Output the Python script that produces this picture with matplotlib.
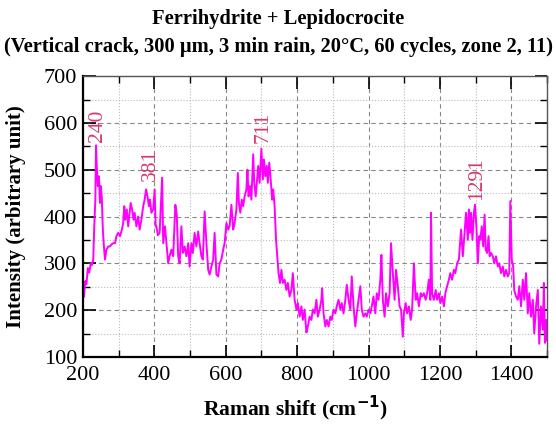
import matplotlib.pyplot as plt
from matplotlib.ticker import MultipleLocator

# Raman spectrum
shift = [
    200, 203, 207, 210, 214, 218, 222, 225, 229, 232, 235, 237, 239, 242, 245,
    248, 250, 253, 256, 259, 262, 266, 271, 276, 280, 285, 290, 294, 299, 304,
    308, 313, 316, 319, 323, 327, 331, 334, 338, 342, 345, 350, 355, 359, 364,
    369, 373, 377, 381, 385, 388, 392, 397, 401, 404, 406, 410, 415, 422, 425,
    430, 434, 439, 443, 448, 453, 459, 463, 467, 471, 476, 480, 485, 490, 495,
    499, 504, 508, 513, 518, 523, 527, 532, 536, 541, 546, 551, 555, 560, 565,
    569, 574, 579, 583, 588, 593, 597, 602, 607, 611, 616, 621, 625, 630, 634,
    637, 641, 645, 649, 653, 658, 661, 664, 668, 672, 677, 680, 684, 688, 691,
    695, 700, 704, 707, 711, 715, 718, 722, 726, 730, 733, 737, 741, 745, 748,
    752, 756, 760, 765, 770, 774, 779, 784, 788, 793, 798, 802, 807, 812, 816,
    821, 826, 830, 835, 840, 844, 849, 854, 858, 863, 868, 870, 874, 879, 883,
    888, 893, 897, 902, 907, 911, 916, 921, 925, 930, 935, 939, 944, 949, 953,
    958, 963, 967, 972, 977, 981, 986, 991, 995, 1000, 1005, 1009, 1014, 1019,
    1023, 1028, 1033, 1036, 1040, 1045, 1049, 1054, 1059, 1063, 1068, 1073,
    1077, 1082, 1087, 1091, 1096, 1099, 1104, 1108, 1113, 1118, 1122, 1127,
    1132, 1136, 1141, 1146, 1150, 1155, 1160, 1164, 1169, 1173, 1175, 1178,
    1183, 1188, 1192, 1197, 1201, 1206, 1211, 1215, 1220, 1225, 1229, 1234,
    1239, 1243, 1248, 1253, 1259, 1264, 1269, 1273, 1278, 1281, 1284, 1287,
    1291, 1295, 1298, 1302, 1306, 1310, 1313, 1317, 1321, 1325, 1328, 1332,
    1336, 1339, 1343, 1348, 1352, 1357, 1362, 1366, 1371, 1376, 1380, 1385,
    1390, 1394, 1397, 1401, 1405, 1408, 1413, 1418, 1422, 1427, 1432, 1436,
    1441, 1446, 1450, 1455, 1460, 1464, 1469, 1474, 1478, 1483, 1488, 1491,
    1494, 1498, 1500,
]
intensity = [
    240, 228, 262, 255, 290, 280, 300, 296, 306, 379, 436, 552, 507, 465, 486,
    429, 465, 443, 372, 336, 308, 329, 336, 336, 340, 343, 343, 358, 365, 358,
    368, 386, 422, 393, 415, 379, 408, 429, 415, 393, 408, 379, 400, 372, 393,
    422, 436, 458, 443, 422, 436, 408, 415, 458, 379, 379, 360, 365, 483, 343,
    379, 343, 300, 315, 329, 315, 425, 404, 315, 300, 379, 322, 336, 315, 343,
    293, 343, 322, 365, 336, 368, 343, 315, 308, 411, 343, 286, 276, 293, 308,
    365, 276, 272, 300, 308, 329, 343, 386, 372, 380, 425, 372, 386, 415, 493,
    429, 408, 436, 422, 443, 458, 500, 443, 465, 436, 533, 472, 443, 479, 508,
    472, 545, 479, 522, 486, 508, 472, 515, 479, 436, 458, 422, 350, 308, 279,
    258, 286, 258, 265, 243, 258, 229, 243, 279, 222, 201, 215, 186, 208, 179,
    201, 152, 165, 186, 179, 201, 193, 222, 186, 201, 222, 247, 193, 165, 179,
    165, 186, 179, 201, 193, 208, 222, 201, 215, 193, 222, 254, 222, 201, 272,
    208, 165, 193, 222, 251, 201, 186, 193, 186, 201, 193, 208, 229, 193,
    236, 222, 265, 318, 222, 186, 236, 208, 236, 343, 279, 222,
    286, 251, 208, 201, 143, 193, 215, 193, 208, 179, 201, 300,
    222, 236, 208, 236, 229, 236, 222, 236, 265, 222, 408, 236,
    222, 243, 222, 236, 215, 229, 208, 236, 251, 265, 279, 265,
    286, 279, 300, 308, 372, 315, 365, 408, 350, 415, 365, 408,
    350, 408, 425, 379, 300, 358, 350, 379, 336, 404, 329, 322,
    358, 315, 322, 315, 300, 315, 293, 300, 279, 293, 272, 286,
    272, 279, 433, 308, 293, 243, 229, 222, 251, 208, 265, 222,
    279, 193, 236, 186, 222, 150, 208, 243, 128, 208, 158, 258,
    130, 179, 135,
]

# peak labels: (text, x, y of label base)
peak_labels = ["240", "381", "711", "1291"]
peak_x = [240, 389, 704, 1303]
peak_y = [560, 475, 557, 436]

plt.rcParams['font.family'] = ['Liberation Serif', 'DejaVu Serif']

fig = plt.figure(figsize=(5.56, 4.30), dpi=100)
ax = fig.add_axes([0.149, 0.170, 0.835, 0.653])

ax.plot(shift, intensity, color='#FF00FF', lw=1.4)

for txt, px, py in zip(peak_labels, peak_x, peak_y):
    ax.text(px, py, txt, rotation=90, ha='center', va='bottom',
            color='#D63A6E', fontsize=15.5)

ax.set_xlim(200, 1500)
ax.set_ylim(100, 700)
ax.xaxis.set_major_locator(MultipleLocator(200))
ax.xaxis.set_minor_locator(MultipleLocator(100))
ax.yaxis.set_major_locator(MultipleLocator(100))
ax.yaxis.set_minor_locator(MultipleLocator(50))

# dashed grid on major, dotted on minor
ax.grid(which='major', ls=(0, (4, 3)), color='#888888', lw=0.8)
ax.grid(which='minor', ls=':', color='#bbbbbb', lw=0.8)
ax.set_axisbelow(True)

ax.tick_params(which='both', direction='in', top=True, right=True,
               labelsize=16)
ax.tick_params(which='major', length=9, width=1.2)
ax.tick_params(which='minor', length=5, width=1.0)
ax.tick_params(axis='x', pad=6.5)
ax.tick_params(axis='y', pad=4)

for side in ['left', 'bottom']:
    ax.spines[side].set_linewidth(1.6)
for side in ['top', 'right']:
    ax.spines[side].set_linewidth(1.0)
    ax.spines[side].set_color('#555555')

ax.set_xlabel('Raman shift (cm$^{\\mathbf{-1}}$)', fontsize=15.5,
              fontweight='bold')
ax.xaxis.set_label_coords(0.459, -0.13)
ax.set_ylabel('Intensity (arbitrary unit)', fontsize=15, fontweight='bold')
ax.yaxis.set_label_coords(-0.123, 0.5)

fig.text(0.5, 0.955, 'Ferrihydrite + Lepidocrocite', ha='center',
         va='center', fontsize=14.8, fontweight='bold')
fig.text(0.5, 0.891,
         '(Vertical crack, 300 µm, 3 min rain, 20°C, 60 cycles, zone 2, 11)',
         ha='center', va='center', fontsize=14.8, fontweight='bold')

fig.savefig('out.png', dpi=100)
